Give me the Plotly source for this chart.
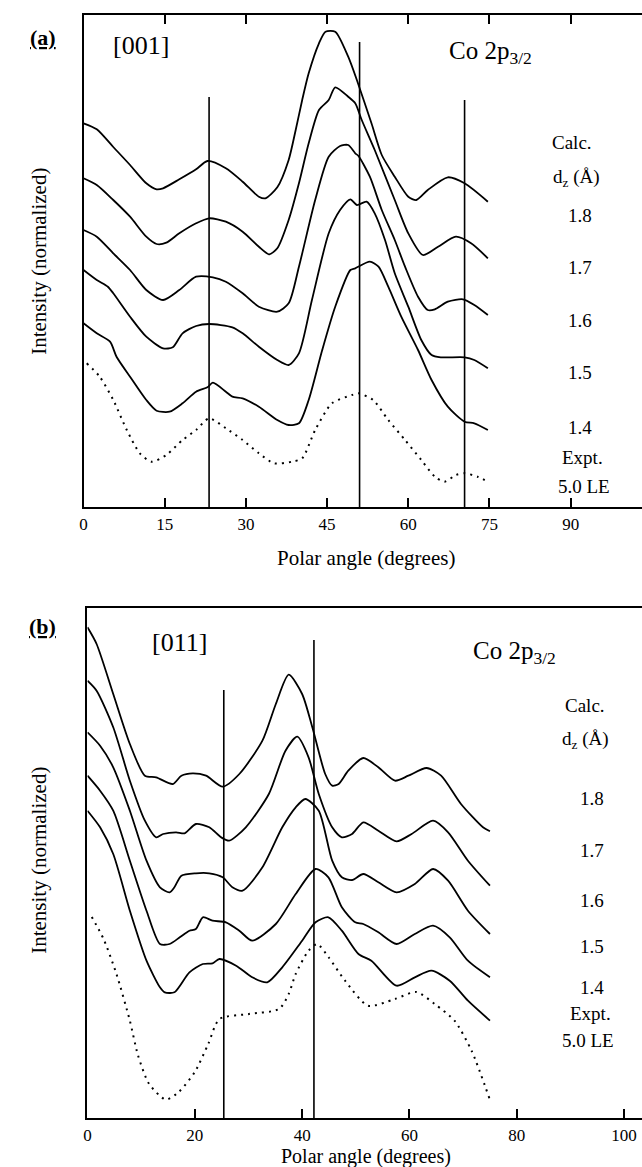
import plotly.graph_objects as go

W, H = 642, 1167

# ---------------- Panel (a): [001] ----------------
A1_x = [0, 2.45, 5.5, 8.6, 11.6, 13.5, 14.7, 17.7, 20.8, 22.9, 26.3, 29.4, 32.4, 33.6, 35.8, 37.9, 39.2, 40.4, 41.6, 43.5, 44.7, 46.5, 48.9, 50.5, 53.2, 55.1, 57.5, 60.0, 61.5, 63.6, 67.3, 70.4, 74.7]
A1_y = [383.7, 377.7, 360, 342, 323.7, 317.7, 318.7, 327.7, 337.7, 346, 338.7, 325.3, 310.3, 308.7, 319.7, 347, 377, 407, 433.7, 463.7, 475.3, 475.3, 450.3, 427, 383.7, 352, 330.3, 310.3, 307, 317, 329.7, 323.7, 305.3]

A2_x = [0, 2.45, 5.5, 8.6, 11.6, 13.5, 15.3, 17.7, 20.8, 23.2, 26.3, 29.4, 32.4, 34.3, 35.8, 37.9, 39.8, 41.6, 43.5, 45.3, 46.5, 48.9, 50.2, 51.4, 53.8, 57.5, 60.0, 62.7, 65.5, 68.8, 71.6, 74.7]
A2_y = [328.7, 322, 307, 290.3, 270.3, 263, 264.3, 273.7, 283.7, 288.7, 285.3, 275.3, 260.3, 252.7, 258.7, 287, 323.7, 363.7, 397, 407, 419.7, 410.3, 403.7, 387, 357, 307, 273.7, 252, 260.3, 270.3, 263.7, 248.7]

A3_x = [0, 2.45, 5.5, 8.6, 11.6, 14.7, 17.7, 20.8, 23.9, 26.3, 29.4, 32.4, 35.8, 37.9, 39.8, 42.8, 45.3, 47.4, 48.9, 50.2, 50.8, 52.9, 55.1, 57.5, 59.4, 61.8, 63.6, 64.9, 67.3, 70.1, 72.2, 74.7]
A3_y = [277, 270.3, 253.7, 237, 217, 207, 217, 230.3, 229.7, 225.3, 213.7, 200.3, 195.3, 203.7, 240.3, 307, 350.3, 361, 362, 353.7, 351, 330.3, 297, 267, 240.3, 210.3, 197, 197.7, 205.3, 207.7, 202, 192]

A4_x = [0, 2.45, 4.5, 5.5, 8.6, 11.6, 14.7, 16.5, 18.3, 20.8, 23.2, 27.5, 29.4, 32.4, 35.8, 37.9, 39.8, 42.2, 45.3, 47.4, 49.3, 50.5, 52.3, 53.8, 55.7, 57.5, 60.0, 62.4, 64.3, 66.0, 70.4, 72.2, 74.7]
A4_y = [237, 227, 220.3, 213.7, 190.3, 170.3, 158.7, 159.7, 173.7, 181, 183, 179.7, 173.7, 160.3, 147, 142, 153.7, 207, 273.7, 297, 307.7, 302, 305.3, 293.7, 267, 233.7, 200.3, 167, 152, 149.7, 149.7, 147, 138.7]

A5_x = [0, 2.45, 4.9, 6.1, 8.6, 11.6, 13.5, 15.9, 18.3, 20.8, 22.9, 23.9, 26.3, 27.5, 29.4, 32.4, 35.8, 37.9, 39.8, 41.6, 44.1, 46.5, 49.3, 50.2, 52.9, 54.5, 56.3, 58.7, 61.8, 64.3, 67.3, 70.4, 72.2, 74.7]
A5_y = [183.7, 173.7, 165.3, 150.3, 130.3, 107, 96.3, 95.3, 103.7, 115.3, 119.7, 124.3, 115.3, 110.3, 108.7, 100.3, 87, 82, 83.7, 107, 157, 200.3, 237, 238.7, 245.3, 240.3, 220.3, 190.3, 157, 127, 100.3, 85.3, 83.7, 77]

AE_x = [0.6, 3, 5.5, 8, 10.4, 12.6, 15.3, 18.3, 20.8, 23.2, 26.3, 29.4, 32.4, 35.2, 38.5, 40.4, 42.8, 45.9, 49.6, 50.8, 53.5, 56.3, 59.4, 62.4, 64.9, 66.7, 68.8, 70.4, 72.8, 74.7]
AE_y = [143.7, 130.3, 107, 77, 53.7, 45.3, 52, 67, 77, 88.7, 78.7, 67, 53.7, 43.7, 45.3, 48.7, 77, 103.7, 112, 113.7, 107, 87, 67, 47, 30.3, 25.3, 32, 33.7, 30.3, 25.3]

A_vline_x = [23.2, 51.0, 70.4]
A_vline_top = [410, 465, 407]
A_ticks = [0, 15, 30, 45, 60, 75, 90]

# ---------------- Panel (b): [011] ----------------
B1_x = [0, 1.7, 4.8, 7.9, 10.7, 12.8, 15.9, 17.5, 19.6, 22.1, 25.2, 28.3, 32.6, 35.1, 37.5, 40.0, 41.9, 44.3, 45.6, 46.8, 48.6, 51.4, 54.2, 57.3, 59.8, 63.2, 65.9, 69.6, 73.7, 75]
B1_y = [490.7, 474, 424, 374, 342.3, 340.7, 334, 342.3, 344.7, 342.3, 331.3, 344, 377.3, 414, 443.3, 424, 390.7, 344, 332.3, 334, 347.3, 360, 350.7, 337.3, 342.3, 350, 342.3, 314, 290.7, 286.7]

B2_x = [0, 1.7, 4.8, 7.9, 10.7, 12.8, 14.1, 16.5, 18.1, 20.2, 22.7, 24.9, 26.4, 29.5, 33.8, 36.9, 39.1, 41.2, 43.1, 45.6, 47.4, 49.3, 51.4, 54.2, 57.6, 60.4, 64.4, 67.2, 70.9, 75]
B2_y = [437.3, 427.3, 390.7, 337.3, 297.3, 280.7, 284, 285.7, 284.7, 294, 290.7, 280.7, 277.3, 290.7, 324, 367.3, 381.3, 360.7, 324, 290.7, 280.7, 284, 295.7, 287.3, 276.7, 284, 297.3, 285.7, 257.3, 232.3]

B3_x = [0, 2.35, 4.8, 7.9, 11.0, 13.5, 15.3, 16.2, 17.5, 20.2, 22.7, 25.2, 27.0, 28.9, 32.6, 36.3, 38.8, 40.6, 43.1, 45.6, 47.4, 49.3, 51.4, 54.2, 57.6, 61.0, 64.4, 67.2, 70.9, 75]
B3_y = [385.7, 372.3, 350.7, 307.3, 257.3, 230.7, 225.7, 230.7, 242.3, 244.7, 244.7, 240.7, 230.7, 227.3, 250.7, 290.7, 310.7, 319, 307.3, 257.3, 240.7, 238, 244, 235.7, 225.7, 234, 249, 237.3, 207.3, 184]

B4_x = [0, 2.35, 4.8, 7.9, 11.0, 13.5, 15.3, 17.2, 19.0, 20.2, 21.5, 23.3, 25.8, 28.3, 30.7, 35.1, 38.8, 42.5, 44.9, 47.4, 49.9, 51.4, 54.2, 57.6, 61.0, 64.4, 67.5, 70.9, 75]
B4_y = [342.3, 327.3, 307.3, 257.3, 207.3, 174, 174, 180.7, 187.3, 189, 200.7, 197.3, 195.7, 187.3, 177.3, 194, 224, 249, 240.7, 210.7, 195.7, 194, 185.7, 174, 184, 192.3, 180.7, 157.3, 140.7]

B5_x = [0, 2.35, 4.8, 7.9, 11.0, 13.5, 14.4, 16.2, 19.0, 21.5, 23.3, 24.6, 27.7, 30.7, 33.5, 36.3, 40.0, 42.5, 44.9, 47.4, 50.5, 52.9, 57.6, 61.0, 64.1, 67.5, 70.9, 75]
B5_y = [307.3, 290.7, 264, 207.3, 157.3, 130.7, 125.7, 125.7, 145.7, 154, 154.7, 159, 152.3, 140.7, 135.7, 150.7, 177.3, 195.7, 200.7, 187.3, 164, 157.3, 132.3, 140.7, 147.3, 137.3, 117.3, 97.4]

BE_x = [0.8, 3.0, 5.4, 7.9, 9.4, 11.5, 14.6, 17.0, 20.0, 22.5, 24.6, 30.1, 35.7, 37.5, 38.8, 41.2, 42.8, 44.9, 48.0, 52.3, 57.3, 61.3, 64.7, 68.4, 71.6, 75]
BE_y = [201, 179, 144, 97.3, 63, 34, 18.4, 26, 46, 74, 99, 104, 109, 124, 144, 167.3, 174, 161, 137.3, 112.3, 119, 126, 114, 97.3, 67, 18]

B_vline_x = [25.4, 42.2]
B_vline_top = [428, 478]
B_ticks = [0, 20, 40, 60, 80, 100]

FONT = "Liberation Serif, Times New Roman, Tinos, DejaVu Serif, serif"

fig = go.Figure()

def add_curves(xs_list, ys_list, xref, yref, dotted=False):
    for xs, ys in zip(xs_list, ys_list):
        fig.add_trace(go.Scatter(
            x=xs, y=ys, mode="lines", xaxis=xref, yaxis=yref,
            line=dict(color="black", width=1.8 if not dotted else 2.0,
                      shape="spline", smoothing=0.7,
                      dash="2px,5px" if dotted else "solid"),
            hoverinfo="skip", showlegend=False))

add_curves([A1_x, A2_x, A3_x, A4_x, A5_x], [A1_y, A2_y, A3_y, A4_y, A5_y], "x", "y")
add_curves([AE_x], [AE_y], "x", "y", dotted=True)
add_curves([B1_x, B2_x, B3_x, B4_x, B5_x], [B1_y, B2_y, B3_y, B4_y, B5_y], "x2", "y2")
add_curves([BE_x], [BE_y], "x2", "y2", dotted=True)

for vx, vt in zip(A_vline_x, A_vline_top):
    fig.add_trace(go.Scatter(x=[vx, vx], y=[0, vt], mode="lines", xaxis="x", yaxis="y",
                             line=dict(color="black", width=1.6), hoverinfo="skip", showlegend=False))
for vx, vt in zip(B_vline_x, B_vline_top):
    fig.add_trace(go.Scatter(x=[vx, vx], y=[0, vt], mode="lines", xaxis="x2", yaxis="y2",
                             line=dict(color="black", width=1.6), hoverinfo="skip", showlegend=False))

def py(ypix):
    return 1 - ypix / H

def px(xpix):
    return xpix / W

# axis geometry (pixels)
A_left, A_top, A_bot = 80, 15, 507
B_left, B_top, B_bot = 84, 608, 1118
A_deg_px = 5.447
B_deg_px = 5.4

common_x = dict(showgrid=False, zeroline=False, showline=True, linecolor="black", linewidth=2.2,
                ticks="inside", ticklen=9, tickwidth=1.6, tickcolor="black",
                tickfont=dict(family=FONT, size=17, color="black"))
common_y = dict(showgrid=False, zeroline=False, showline=True, linecolor="black", linewidth=2,
                ticks="", showticklabels=False)

fig.update_layout(
    width=W, height=H, margin=dict(l=0, r=0, t=0, b=0),
    paper_bgcolor="white", plot_bgcolor="white", showlegend=False,
    xaxis=dict(domain=[px(A_left), 1], range=[0, (W - A_left) / A_deg_px], anchor="y",
               tickvals=A_ticks, mirror="ticks", **common_x),
    yaxis=dict(domain=[py(A_bot), py(A_top)], range=[0, A_bot - A_top], anchor="x", **common_y),
    xaxis2=dict(domain=[px(B_left), 1], range=[0, (W - B_left) / B_deg_px], anchor="y2",
                tickvals=B_ticks, mirror=True, **common_x),
    yaxis2=dict(domain=[py(B_bot), py(B_top)], range=[0, B_bot - B_top], anchor="x2", **common_y),
)

def ann(text, x, y, size, angle=0, xanchor="center"):
    fig.add_annotation(text=text, x=px(x), y=py(y), xref="paper", yref="paper",
                       xanchor=xanchor, yanchor="middle", showarrow=False, textangle=angle,
                       font=dict(family=FONT, size=size, color="black"))

# panel (a) texts
ann("<b><u>(a)</u></b>", 39, 37, 22)
ann("[001]", 138, 45, 26)
ann("Co 2p<sub>3/2</sub>", 446, 52, 25, xanchor="left")
ann("Intensity (normalized)", 35, 261, 21, angle=-90)
ann("Polar angle (degrees)", 364, 558, 21)
A_labels = ["Calc.", "d<sub>z</sub> (Å)", "1.8", "1.7", "1.6", "1.5", "1.4", "Expt.", "5.0 LE"]
A_label_x = [572, 576, 580, 580, 580, 580, 580, 582, 584]
A_label_y = [143, 178, 215, 268, 320, 372, 428, 457, 486]
for t, xx, yy in zip(A_labels, A_label_x, A_label_y):
    ann(t, xx, yy, 19)

# panel (b) texts
ann("<b><u>(b)</u></b>", 39, 626, 22)
ann("[011]", 177, 642, 26)
ann("Co 2p<sub>3/2</sub>", 470, 652, 25, xanchor="left")
ann("Intensity (normalized)", 35, 860, 21, angle=-90)
ann("Polar angle (degrees)", 364, 1156, 20)
B_labels = ["Calc.", "d<sub>z</sub> (Å)", "1.8", "1.7", "1.6", "1.5", "1.4", "Expt.", "5.0 LE"]
B_label_x = [585, 585, 592, 592, 592, 592, 592, 590, 588]
B_label_y = [705, 740, 798, 850, 900, 946, 987, 1013, 1040]
for t, xx, yy in zip(B_labels, B_label_x, B_label_y):
    ann(t, xx, yy, 19)

fig.write_html("out.html")
